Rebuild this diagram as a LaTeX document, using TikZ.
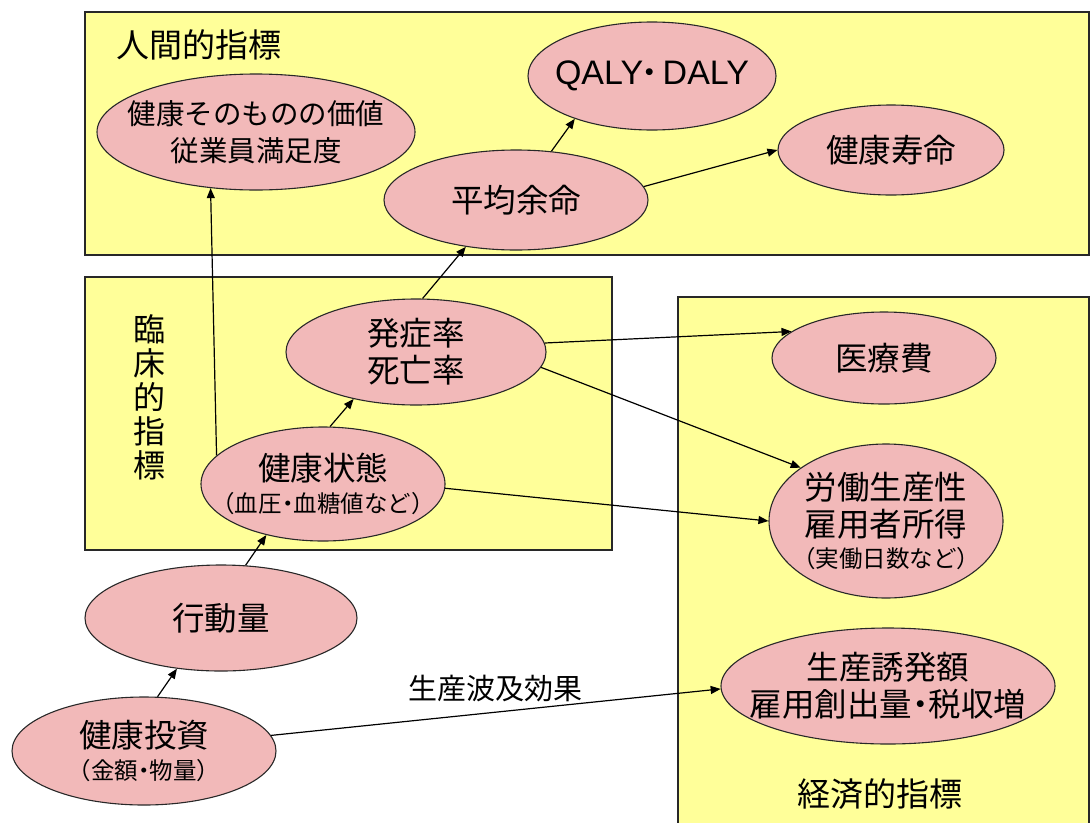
\documentclass[tikz,border=0pt]{standalone}
\usepackage{fontspec}
\setmainfont{Noto Sans CJK JP}
\newfontfamily\latinfont{Liberation Sans}
\usetikzlibrary{shapes.geometric,arrows.meta}
\definecolor{boxyellow}{RGB}{255,255,153}
\definecolor{ovalpink}{RGB}{242,185,185}
\definecolor{edgegray}{RGB}{40,40,40}
\newcommand{\ndot}{\hspace{-0.25em}・\hspace{-0.25em}}
\begin{document}
\begin{tikzpicture}[x=1pt,y=-1pt,
  region/.style={draw=edgegray, line width=1.4pt, fill=boxyellow},
  oval/.style={ellipse, draw=edgegray, line width=1.1pt, fill=ovalpink, inner sep=0pt},
  txt/.style={align=center, inner sep=0pt, font=\fontsize{32.5}{37}\selectfont},
  link/.style={-{Triangle[length=10pt,width=8pt]}, line width=1.2pt, draw=black}
  ]
\useasboundingbox (0,0) rectangle (1091,822);
\clip (0,0) rectangle (1091,822);
\fill[white] (0,0) rectangle (1091,822);

% regions
\draw[region] (85,12) rectangle (1089,255);
\draw[region] (85,277) rectangle (612,550);
\draw[region] (678,297) rectangle (1089,840);

\node[txt, anchor=west, font=\fontsize{33}{36}\selectfont] (lhuman) at (116,45) {人間的指標};
\node[txt, font=\fontsize{32}{34}\selectfont] (lclin) at (149,397) {臨\\床\\的\\指\\標};
\node[txt, font=\fontsize{33}{36}\selectfont] (lecon) at (880,794) {経済的指標};

% ellipses
\node[oval, minimum width=318pt, minimum height=116pt,
  label={[txt, font=\fontsize{28.5}{37}\selectfont]center:{健康そのものの価値\\従業員満足度}}] (value) at (256,132) {};
\node[oval, minimum width=248pt, minimum height=108pt,
  label={[txt]center:{{\latinfont\fontsize{34}{37}\selectfont QALY}\hspace{-0.3em}・\hspace{-0.1em}{\latinfont\fontsize{34}{37}\selectfont DALY}}}] (qaly) at (652,76) {};
\node[oval, minimum width=264pt, minimum height=100pt,
  label={[txt]center:{平均余命}}] (life) at (516,200) {};
\node[oval, minimum width=226pt, minimum height=90pt,
  label={[txt]center:{健康寿命}}] (hlife) at (891,150) {};
\node[oval, minimum width=260pt, minimum height=106pt,
  label={[txt]center:{発症率\\死亡率}}] (onset) at (416,352) {};
\node[oval, minimum width=244pt, minimum height=114pt,
  label={[txt]center:{健康状態\\[-5pt]{\fontsize{23.5}{27}\selectfont （血圧\ndot 血糖値など）}}}] (state) at (323,484) {};
\node[oval, minimum width=224pt, minimum height=92pt,
  label={[txt]center:{医療費}}] (med) at (884,358) {};
\node[oval, minimum width=234pt, minimum height=154pt,
  label={[txt]center:{労働生産性\\雇用者所得\\[-6pt]{\fontsize{23.5}{27}\selectfont （実働日数など）}}}] (labor) at (886,521) {};
\node[oval, minimum width=272pt, minimum height=106pt,
  label={[txt]center:{行動量}}] (act) at (221,618) {};
\node[oval, minimum width=334pt, minimum height=116pt,
  label={[txt]center:{生産誘発額\\雇用創出量\ndot 税収増}}] (induce) at (888,686) {};
\node[oval, minimum width=264pt, minimum height=108pt,
  label={[txt]center:{健康投資\\[-5pt]{\fontsize{23.5}{27}\selectfont （金額\ndot 物量）}}}] (invest) at (144,751) {};

% connectors
\draw[link] (invest.76) -- (act.229);
\draw[link] (act.65) -- (state.222);
\draw[link] (state.83) -- (onset.217);
\draw[link] (onset.83) -- (life.223);
\draw[link] (life.54) -- (qaly.209);
\draw[link] (life.6) -- (hlife.180);
\draw[link] (state.165) -- (value.231);
\draw[link] (onset.4) -- (med.164);
\draw[link] (onset.-7) -- (labor.148);
\draw[link] (state.-2) -- (labor.180);
\draw[link] (invest.7) -- (induce.181) node[pos=0.5, above=10pt, txt, font=\fontsize{29}{33}\selectfont] (ripple) {生産波及効果};
\end{tikzpicture}
\end{document}
